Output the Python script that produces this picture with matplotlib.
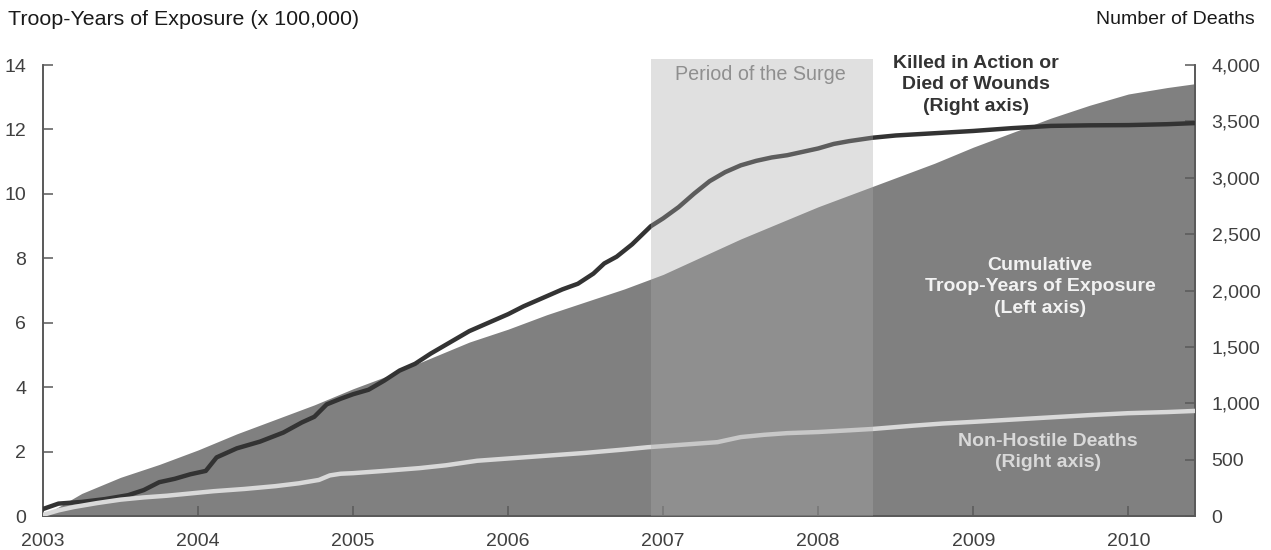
import matplotlib
matplotlib.use("Agg")
import matplotlib.pyplot as plt
from matplotlib.ticker import FuncFormatter

plt.rcParams['font.family'] = ['Liberation Sans', 'DejaVu Sans']

# Cumulative troop-years of exposure (x 100,000), left axis
exposure_years = [2003.0, 2003.25, 2003.5, 2003.75, 2004.0, 2004.25, 2004.5, 2004.75,
                  2005.0, 2005.25, 2005.5, 2005.75, 2006.0, 2006.25, 2006.5, 2006.75,
                  2007.0, 2007.25, 2007.5, 2007.75, 2008.0, 2008.25, 2008.5, 2008.75,
                  2009.0, 2009.25, 2009.5, 2009.75, 2010.0, 2010.25, 2010.43]
exposure = [0, 0.7, 1.2, 1.6, 2.05, 2.55, 3.0, 3.45,
            3.95, 4.4, 4.9, 5.4, 5.8, 6.25, 6.65, 7.05,
            7.5, 8.05, 8.6, 9.1, 9.6, 10.05, 10.5, 10.95,
            11.45, 11.9, 12.35, 12.75, 13.1, 13.3, 13.42]

# Killed in action or died of wounds, right axis
kia_years = [2003.0, 2003.1, 2003.25, 2003.4, 2003.55, 2003.65, 2003.75, 2003.85, 2003.95,
             2004.05, 2004.12, 2004.25, 2004.4, 2004.55, 2004.67, 2004.75, 2004.83, 2004.92,
             2005.0, 2005.1, 2005.2, 2005.3, 2005.4, 2005.5, 2005.6, 2005.75, 2005.9,
             2006.0, 2006.1, 2006.25, 2006.35, 2006.45, 2006.55, 2006.62, 2006.7, 2006.8,
             2006.92, 2007.0, 2007.1, 2007.2, 2007.3, 2007.4, 2007.5, 2007.6, 2007.7,
             2007.8, 2007.9, 2008.0, 2008.1, 2008.2, 2008.35, 2008.5, 2008.75, 2009.0,
             2009.25, 2009.5, 2009.75, 2010.0, 2010.25, 2010.43]
kia = [62, 110, 125, 150, 185, 230, 300, 330, 370,
       400, 520, 600, 660, 740, 830, 880, 990, 1040,
       1080, 1120, 1200, 1290, 1350, 1440, 1520, 1640, 1730,
       1790, 1860, 1950, 2010, 2060, 2150, 2240, 2300, 2410,
       2570, 2640, 2740, 2860, 2970, 3050, 3110, 3150, 3180,
       3200, 3230, 3260, 3300, 3325, 3355, 3375, 3395, 3415,
       3440, 3460, 3465, 3467, 3475, 3485]

# Non-hostile deaths, right axis
nh_years = [2003.0, 2003.1, 2003.2, 2003.35, 2003.5, 2003.65, 2003.8, 2003.95, 2004.1,
            2004.3, 2004.5, 2004.65, 2004.78, 2004.85, 2004.92, 2005.0, 2005.2, 2005.43,
            2005.6, 2005.8, 2006.0, 2006.2, 2006.5, 2006.75, 2006.9, 2007.0, 2007.2,
            2007.35, 2007.5, 2007.65, 2007.8, 2008.0, 2008.2, 2008.35, 2008.6, 2008.8,
            2009.0, 2009.25, 2009.5, 2009.75, 2010.0, 2010.25, 2010.43]
non_hostile = [10, 50, 80, 115, 145, 165, 180, 200, 220,
               240, 265, 290, 320, 360, 375, 380, 400, 425,
               450, 490, 510, 530, 560, 590, 610, 620, 640,
               655, 700, 720, 735, 745, 760, 772, 800, 820,
               835, 855, 875, 895, 912, 922, 932]

surge_start, surge_end = 2006.92, 2008.355
year_ticks = [2003, 2004, 2005, 2006, 2007, 2008, 2009, 2010]

axis_col = '#595959'
tick_col = '#404040'

fig = plt.figure(figsize=(12.71, 5.5), dpi=100)
ax = fig.add_axes([0.0338, 0.0618, 0.9064, 0.82])
ax2 = ax.twinx()

ax.fill_between(exposure_years, 0, exposure, color='#808080', lw=0, zorder=1)
ax2.plot(kia_years, kia, color='#333333', lw=3.2, solid_capstyle='round', zorder=3)
ax2.plot(nh_years, non_hostile, color='#d9d9d9', lw=3.2, solid_capstyle='round', zorder=3)

# surge overlay on top of everything, a little taller than the axes
ax2.axvspan(surge_start, surge_end, ymin=0, ymax=1.013, color='#aaaaaa', alpha=0.36,
            lw=0, clip_on=False, zorder=5)

ax.set_xlim(2003, 2010.43)
ax.set_ylim(0, 14)
ax2.set_ylim(0, 4000)
ax.set_xticks(year_ticks)
ax.set_yticks(range(0, 15, 2))
ax2.set_yticks(range(0, 4001, 500))
ax2.yaxis.set_major_formatter(FuncFormatter(lambda v, p: f'{int(v):,}'))

for a in (ax, ax2):
    a.spines['top'].set_visible(False)
    for s in ('left', 'right', 'bottom'):
        a.spines[s].set_color(axis_col)
        a.spines[s].set_linewidth(1.2)
    a.tick_params(direction='in', length=7, width=1.1, color=axis_col,
                  labelsize=14, labelcolor=tick_col)
ax.tick_params(axis='y', pad=12)
ax.tick_params(axis='x', pad=12)
ax2.tick_params(axis='y', pad=12)

fig.text(0.0063, 0.965, 'Troop-Years of Exposure (x 100,000)', fontsize=15.4,
         color='#1a1a1a', ha='left', va='center')
fig.text(0.987, 0.965, 'Number of Deaths', fontsize=14, color='#1a1a1a',
         ha='right', va='center')

ax.text(2007.63, 13.70, 'Period of the Surge', fontsize=14.2, color='#808080',
        ha='center', va='center', zorder=6)
ax2.text(2009.02, 13.38 / 14 * 4000, 'Killed in Action or\nDied of Wounds\n(Right axis)',
         fontsize=14, fontweight='bold', color='#333333', ha='center', va='center',
         linespacing=1.32, zorder=6)
ax2.text(2009.43, 7.11 / 14 * 4000, 'Cumulative\nTroop-Years of Exposure\n(Left axis)',
         fontsize=14, fontweight='bold', color='#f2f2f2', ha='center', va='center',
         linespacing=1.32, zorder=6)
ax2.text(2009.48, 1.99 / 14 * 4000, 'Non-Hostile Deaths\n(Right axis)',
         fontsize=14, fontweight='bold', color='#d9d9d9', ha='center', va='center',
         linespacing=1.32, zorder=6)

fig.savefig('out.png', dpi=100)
